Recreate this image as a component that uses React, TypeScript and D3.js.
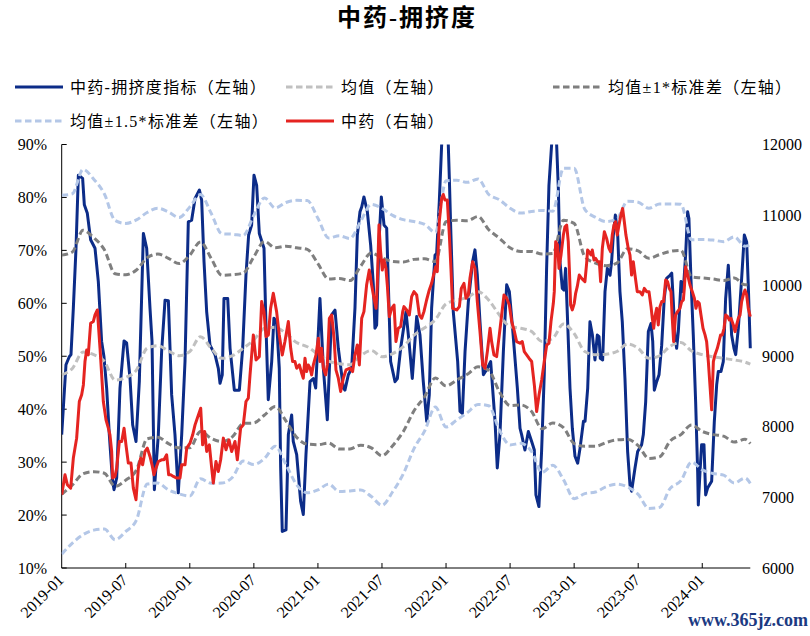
import React from 'react';
import * as d3 from 'd3';

// x positions are months counted from 2019-01
const tickLabels = ['2019-01', '2019-07', '2020-01', '2020-07', '2021-01', '2021-07', '2022-01', '2022-07', '2023-01', '2023-07', '2024-01'];
const leftTicks = [10, 20, 30, 40, 50, 60, 70, 80, 90];
const rightTicks = [6000, 7000, 8000, 9000, 10000, 11000, 12000];

// 中药-拥挤度指标 (%), [month, value]
const crowding: [number, number][] = [
  [0, 35.2], [0.4, 48.4], [0.71, 49.9], [0.87, 50.3], [1.09, 59.1], [1.34, 70.4], [1.56, 84.2], [1.78, 83.9], [1.96, 83.6], [2.12, 78.6],
  [2.4, 77.0], [2.71, 72.0], [3.12, 70.4], [3.43, 64.1], [3.74, 52.8], [3.96, 49.9], [4.21, 44.0], [4.46, 35.2], [4.74, 27.0], [4.9, 24.8],
  [5.15, 27.0], [5.46, 44.0], [5.84, 52.9], [6.08, 52.5], [6.4, 45.8], [6.65, 37.0], [6.96, 33.9], [7.27, 45.2], [7.65, 73.2], [7.96, 70.4],
  [8.27, 59.1], [8.46, 52.8], [8.68, 24.8], [9.05, 35.2], [9.36, 50.9], [9.68, 60.6], [9.99, 60.5], [10.3, 42.7], [10.61, 35.2], [10.92, 24.2],
  [11.24, 35.2], [11.55, 49.0], [11.86, 75.4], [12.17, 75.7], [12.49, 79.8], [12.9, 81.4], [13.11, 79.5], [13.33, 67.9], [13.58, 58.4], [13.89, 52.1],
  [14.36, 50.3], [14.67, 47.7], [14.83, 44.9], [15.04, 46.5], [15.2, 60.9], [15.55, 60.9], [15.77, 51.5], [16.17, 43.6], [16.64, 43.6], [16.95, 51.5],
  [17.26, 65.3], [17.51, 72.9], [17.79, 74.8], [18.01, 84.2], [18.26, 82.3], [18.51, 73.2], [18.95, 70.4], [19.14, 55.3], [19.35, 41.8], [19.67, 49.0],
  [19.88, 57.2], [20.13, 56.5], [20.38, 47.7], [20.51, 28.9], [20.66, 16.9], [21.01, 17.2], [21.23, 35.2], [21.54, 38.9], [21.69, 33.9], [22.01, 31.4],
  [22.38, 22.6], [22.63, 20.1], [22.88, 31.4], [23.26, 45.2], [23.57, 45.8], [23.79, 44.0], [24.19, 60.9], [24.51, 47.7], [24.88, 38.0], [25.28, 57.8],
  [25.6, 58.7], [25.91, 51.5], [26.38, 44.0], [26.53, 43.6], [26.85, 46.5], [27.16, 47.7], [27.47, 59.1], [27.69, 72.9], [27.94, 77.3], [28.1, 78.2],
  [28.31, 80.1], [28.63, 77.3], [28.94, 71.0], [29.19, 63.5], [29.34, 55.3], [29.5, 55.9], [29.72, 71.6], [29.94, 80.1], [30.19, 74.8], [30.44, 74.2],
  [30.81, 49.0], [31.22, 45.2], [31.44, 45.8], [31.75, 51.5], [32.25, 58.4], [32.53, 52.8], [32.84, 45.8], [33.25, 57.5], [33.56, 54.0], [33.87, 45.2],
  [34.19, 37.7], [34.43, 42.7], [34.65, 59.1], [34.97, 69.1], [35.12, 69.4], [35.37, 79.2], [35.59, 90.0], [35.85, 97.0], [36.05, 96.0], [36.21, 90.0],
  [36.31, 83.6], [36.43, 74.8], [36.68, 58.4], [37.09, 49.0], [37.31, 39.6], [37.53, 39.2], [37.78, 50.9], [38.09, 60.3], [38.49, 67.9], [38.71, 70.1],
  [38.93, 65.3], [39.18, 56.5], [39.5, 46.5], [39.87, 47.7], [40.18, 49.0], [40.59, 37.7], [40.8, 28.9], [41.05, 35.2], [41.37, 50.9], [41.68, 63.5],
  [41.93, 62.2], [42.21, 55.9], [42.68, 44.0], [42.93, 36.4], [43.08, 35.2], [43.39, 32.3], [43.71, 35.8], [44.02, 33.9], [44.27, 32.3], [44.42, 23.8],
  [44.7, 21.6], [44.95, 32.0], [45.2, 46.5], [45.42, 66.6], [45.64, 82.3], [45.89, 90.0], [46.05, 96.0], [46.25, 95.0], [46.36, 90.0], [46.52, 81.7],
  [46.67, 67.9], [46.89, 62.8], [47.05, 62.5], [47.2, 66.6], [47.39, 56.5], [47.61, 44.0], [47.83, 36.4], [48.08, 31.1], [48.33, 29.8], [48.55, 32.6],
  [48.87, 37.7], [49.02, 37.7], [49.27, 44.0], [49.48, 56.5], [49.71, 54.0], [49.95, 49.3], [50.17, 54.0], [50.33, 53.7], [50.45, 49.6], [50.67, 49.3],
  [50.89, 62.2], [51.11, 66.6], [51.36, 65.3], [51.51, 67.9], [51.67, 72.9], [51.86, 76.7], [52.08, 72.9], [52.29, 62.2], [52.51, 56.5], [52.76, 45.8],
  [53.01, 32.0], [53.23, 25.7], [53.38, 24.5], [53.7, 28.9], [53.95, 32.0], [54.32, 33.3], [54.48, 35.2], [54.7, 41.4], [54.95, 54.7], [55.2, 56.2],
  [55.36, 52.8], [55.51, 43.6], [55.73, 45.2], [55.95, 46.5], [56.2, 52.1], [56.44, 60.9], [56.66, 64.7], [56.98, 65.3], [57.14, 65.7], [57.29, 60.3],
  [57.44, 54.0], [57.6, 51.5], [57.76, 54.7], [58.01, 64.1], [58.22, 62.2], [58.44, 69.1], [58.63, 77.3], [58.75, 76.0], [58.94, 64.7], [59.16, 54.0],
  [59.38, 41.4], [59.57, 28.2], [59.63, 21.9], [59.79, 28.2], [59.94, 33.3], [60.16, 33.3], [60.32, 23.8], [60.5, 25.1], [60.88, 26.4], [61.13, 37.7],
  [61.35, 44.6], [61.5, 47.1], [61.75, 47.1], [61.97, 49.0], [62.19, 60.9], [62.44, 67.2], [62.6, 60.9], [62.75, 54.0], [62.97, 51.5], [63.13, 50.3],
  [63.38, 55.3], [63.69, 64.7], [63.94, 72.9], [64.16, 71.6], [64.31, 63.5], [64.5, 51.5],
];

// 中药 index (right axis), [month, value]
const herbIndex: [number, number][] = [
  [0, 7038], [0.31, 7321], [0.53, 7179], [0.84, 7132], [1.09, 7557], [1.4, 7840], [1.65, 8359], [1.87, 8453], [2.03, 8594], [2.18, 8925],
  [2.34, 9090], [2.49, 9019], [2.71, 9467], [2.96, 9491], [3.12, 9585], [3.34, 9656], [3.59, 9113], [3.9, 8359], [4.15, 8099], [4.37, 7981],
  [4.52, 7887], [4.68, 7651], [4.77, 7274], [4.99, 7297], [5.15, 7415], [5.4, 7792], [5.62, 7792], [5.84, 7981], [6.02, 7745], [6.24, 7486],
  [6.49, 7486], [6.71, 7132], [6.96, 6967], [7.18, 7415], [7.4, 7557], [7.58, 7462], [7.8, 7651], [8.02, 7698], [8.27, 7580], [8.46, 7462],
  [8.64, 7321], [8.83, 7415], [9.05, 7509], [9.36, 7533], [9.58, 7533], [9.83, 7604], [10.02, 7321], [10.21, 7321], [10.46, 7297], [10.77, 7274],
  [11.08, 7274], [11.24, 7462], [11.55, 7462], [11.71, 7698], [12.02, 7769], [12.27, 7887], [12.49, 8028], [12.7, 8123], [13.02, 8264], [13.2, 7745],
  [13.39, 7934], [13.58, 7651], [13.83, 7745], [14.05, 7415], [14.2, 7203], [14.45, 7509], [14.67, 7368], [14.89, 7533], [15.14, 7840], [15.39, 7675],
  [15.67, 7816], [15.92, 7651], [16.23, 7792], [16.45, 7533], [16.76, 7981], [17.01, 8028], [17.26, 8359], [17.48, 8406], [17.64, 8736], [17.95, 9302],
  [18.2, 8948], [18.51, 8995], [18.73, 9774], [18.95, 9632], [19.14, 9278], [19.36, 9302], [19.57, 9679], [19.82, 9892], [20.13, 9632], [20.38, 9302],
  [20.66, 9019], [20.91, 9208], [21.23, 9491], [21.45, 9113], [21.63, 8925], [21.85, 8925], [22.01, 8830], [22.26, 8877], [22.48, 8759], [22.63, 8689],
  [22.79, 8972], [22.94, 8783], [23.1, 8877], [23.26, 8830], [23.41, 8736], [23.57, 8877], [23.82, 9019], [24.04, 9255], [24.19, 8925], [24.35, 9113],
  [24.51, 8830], [24.72, 8736], [24.88, 8877], [25.07, 9538], [25.29, 9585], [25.51, 9255], [25.69, 8807], [25.91, 8689], [26.13, 8500], [26.38, 8689],
  [26.63, 8807], [27.0, 8830], [27.25, 8783], [27.47, 9019], [27.69, 9160], [27.88, 8877], [28.1, 9538], [28.31, 9632], [28.56, 10009], [28.81, 10222],
  [29.03, 10009], [29.25, 9821], [29.44, 9679], [29.56, 10009], [29.72, 10858], [29.87, 10481], [30.03, 10222], [30.19, 10363], [30.37, 10245], [30.5, 10009],
  [30.69, 9561], [30.91, 9679], [31.13, 9726], [31.31, 9208], [31.53, 9396], [31.75, 9420], [31.94, 9632], [32.06, 9703], [32.31, 9656], [32.56, 9585],
  [32.78, 9844], [33.0, 9915], [33.25, 9868], [33.5, 9585], [33.72, 9538], [33.93, 9632], [34.18, 9797], [34.43, 9939], [34.65, 10033], [34.87, 10175],
  [35.03, 10269], [35.18, 10198], [35.37, 10906], [35.59, 11236], [35.74, 11292], [35.9, 11212], [36.12, 11212], [36.31, 10717], [36.46, 10245], [36.62, 9679],
  [37.0, 9656], [37.25, 9703], [37.43, 9962], [37.68, 10033], [37.87, 9821], [38.09, 9868], [38.24, 10104], [38.49, 10340], [38.71, 10245], [38.93, 9774],
  [39.18, 9349], [39.43, 8877], [39.65, 8830], [39.87, 9066], [40.12, 9396], [40.27, 9208], [40.49, 9019], [40.74, 8995], [40.99, 9302], [41.21, 9585],
  [41.43, 9868], [41.68, 9821], [41.93, 9726], [42.15, 9491], [42.37, 9373], [42.61, 9208], [42.93, 9184], [43.14, 9208], [43.33, 9066], [43.55, 9019],
  [43.77, 8972], [44.02, 8925], [44.27, 8594], [44.49, 8217], [44.71, 8453], [44.96, 8665], [45.2, 8925], [45.43, 9160], [45.64, 9184], [45.83, 9491],
  [46.05, 9750], [46.14, 9915], [46.27, 10623], [46.45, 10575], [46.58, 10245], [46.77, 10434], [46.99, 10717], [47.14, 10835], [47.3, 10858], [47.45, 10623],
  [47.55, 10245], [47.67, 9726], [47.83, 9656], [48.01, 9750], [48.14, 9892], [48.29, 9986], [48.48, 10151], [48.7, 10104], [49.01, 10057], [49.17, 10316],
  [49.26, 10505], [49.39, 10481], [49.58, 10434], [49.7, 10505], [49.86, 10363], [50.01, 10387], [50.2, 10340], [50.36, 10340], [50.48, 10057], [50.64, 10528],
  [50.83, 10764], [51.04, 10670], [51.26, 10528], [51.42, 10481], [51.57, 10717], [51.73, 10858], [51.88, 10906], [52.04, 10717], [52.2, 10858], [52.38, 11000],
  [52.54, 11094], [52.7, 10906], [52.85, 10717], [53.07, 10528], [53.23, 10434], [53.38, 10151], [53.54, 10340], [53.7, 10151], [53.91, 9915], [54.16, 9915],
  [54.38, 9868], [54.57, 9962], [54.79, 9915], [55.01, 9915], [55.2, 9703], [55.32, 9538], [55.45, 9396], [55.57, 9561], [55.73, 9679], [55.88, 9444],
  [56.04, 9703], [56.2, 9774], [56.38, 9774], [56.57, 10080], [56.75, 10057], [56.91, 9962], [57.07, 9915], [57.19, 9538], [57.32, 9208], [57.5, 9585],
  [57.69, 9632], [57.91, 9679], [58.07, 9774], [58.23, 9797], [58.32, 9962], [58.44, 10269], [58.63, 10151], [58.85, 10009], [59.07, 9915], [59.26, 9821],
  [59.41, 9679], [59.57, 9774], [59.72, 9750], [59.88, 9585], [60.07, 9396], [60.26, 9302], [60.41, 9208], [60.57, 8925], [60.72, 8594], [60.88, 8241],
  [61.04, 8925], [61.19, 9019], [61.41, 9113], [61.57, 9208], [61.72, 9302], [61.88, 9302], [62.04, 9396], [62.19, 9585], [62.38, 9561], [62.54, 9514],
  [62.69, 9538], [62.91, 9444], [63.07, 9349], [63.22, 9444], [63.38, 9538], [63.54, 9585], [63.69, 9774], [63.88, 9892], [64.0, 9939], [64.16, 9868],
  [64.31, 9679], [64.5, 9561],
];

// rolling mean and standard deviation of the crowding index (%), one per month
const bandMonths = [
  0, 1, 2, 3, 4, 5, 6, 7, 8, 9, 10, 11, 12, 13, 14, 15, 16, 17, 18, 19, 20, 21,
  22, 23, 24, 25, 26, 27, 28, 29, 30, 31, 32, 33, 34, 35, 36, 37, 38, 39, 40, 41, 42, 43,
  44, 45, 46, 47, 48, 49, 50, 51, 52, 53, 54, 55, 56, 57, 58, 59, 60, 61, 62, 63, 64, 64.5,
];
const meanValues = [
  46.5, 47.7, 50.8, 50.3, 49.0, 45.5, 46.0, 47.4, 51.5, 52.0, 51.0, 50.1, 50.9, 53.7, 51.5, 49.6, 50.1, 51.5, 53.1, 55.3, 55.5, 54.3,
  52.6, 51.8, 50.4, 49.1, 48.6, 48.4, 50.1, 51.1, 49.9, 50.5, 51.8, 54.0, 55.4, 56.9, 59.9, 60.6, 61.1, 62.2, 60.6, 57.8, 55.6, 55.3,
  54.7, 52.8, 53.4, 56.1, 54.3, 50.9, 50.3, 50.4, 50.9, 52.3, 51.5, 49.6, 50.1, 51.9, 52.6, 51.0, 50.3, 49.9, 49.6, 49.3, 48.9, 48.5,
];
const stdValues = [
  22.6, 22.0, 23.0, 22.1, 21.1, 20.1, 19.4, 18.9, 17.1, 17.3, 17.5, 17.4, 18.2, 17.9, 17.0, 15.7, 15.3, 14.2, 15.7, 16.4, 15.0, 16.5,
  17.9, 18.4, 17.1, 15.5, 16.1, 15.9, 16.9, 18.4, 18.7, 17.4, 16.0, 14.3, 13.0, 11.0, 15.5, 15.1, 14.5, 14.2, 13.3, 14.5, 14.9, 14.5,
  15.1, 16.5, 16.0, 19.6, 20.8, 17.9, 17.3, 16.7, 16.7, 18.0, 18.4, 18.9, 19.1, 17.9, 17.4, 14.0, 14.5, 14.7, 14.7, 15.5, 14.6, 15.0,
];

const FONT = "'Liberation Serif', 'Noto Sans CJK SC', serif";
const NAVY = '#0c2c88';
const RED = '#e52421';
const LIGHT_GREY = '#c0c0c0';
const DARK_GREY = '#7f7f7f';
const LIGHT_BLUE = '#b4c7e7';
const DASH = '6.5,3.5';

const legendItems = [
  { label: '中药-拥挤度指标（左轴）', color: NAVY, dash: null, x: 15, y: 87 },
  { label: '均值（左轴）', color: LIGHT_GREY, dash: DASH, x: 286, y: 87 },
  { label: '均值±1*标准差（左轴）', color: DARK_GREY, dash: DASH, x: 553, y: 87 },
  { label: '均值±1.5*标准差（左轴）', color: LIGHT_BLUE, dash: DASH, x: 15, y: 121 },
  { label: '中药（右轴）', color: RED, dash: null, x: 286, y: 121 },
];

export default function App() {
  const width = 810;
  const height = 636;
  const left = 61.7;
  const right = 750.3;
  const top = 144.5;
  const bottom = 568;

  const x = d3.scaleLinear().domain([0, 64.5]).range([left, right]);
  const yL = d3.scaleLinear().domain([10, 90]).range([bottom, top]);
  const yR = d3.scaleLinear().domain([6000, 12000]).range([bottom, top]);

  const pctLine = d3.line<[number, number]>().x(d => x(d[0])).y(d => yL(d[1]));
  const idxLine = d3.line<[number, number]>().x(d => x(d[0])).y(d => yR(d[1]));
  const bandLine = d3.line<[number, number]>().x(d => x(d[0])).y(d => yL(d[1])).curve(d3.curveMonotoneX);

  const band = (k: number) => bandMonths.map((m, i) => [m, meanValues[i] + k * stdValues[i]] as [number, number]);

  const bands = [
    { k: 0, color: LIGHT_GREY },
    { k: 1, color: DARK_GREY },
    { k: -1, color: DARK_GREY },
    { k: 1.5, color: LIGHT_BLUE },
    { k: -1.5, color: LIGHT_BLUE },
  ];

  return (
    <svg width={width} height={height} style={{ position: 'absolute', left: 0, top: 0, background: '#fff' }} fontFamily={FONT}>
      <defs>
        <clipPath id="plot-clip">
          <rect x={left} y={top} width={right - left + 2} height={bottom - top} />
        </clipPath>
      </defs>

      <text x={407} y={26} textAnchor="middle" fontSize={24} fontWeight="bold" letterSpacing={2} fill="#000">中药-拥挤度</text>

      {legendItems.map(item => (
        <g key={item.label}>
          <line x1={item.x} x2={item.x + 48} y1={item.y} y2={item.y} stroke={item.color} strokeWidth={3}
            strokeDasharray={item.dash || undefined} />
          <text x={item.x + 55} y={item.y + 5.5} fontSize={16} letterSpacing={1.3} fill="#000">{item.label}</text>
        </g>
      ))}

      {/* axes */}
      <line x1={left} x2={left} y1={top} y2={bottom} stroke="#000" strokeWidth={1} />
      <line x1={left} x2={right} y1={bottom} y2={bottom} stroke="#000" strokeWidth={1} />
      {leftTicks.map(t => (
        <g key={'l' + t}>
          <line x1={left} x2={left + 5} y1={yL(t)} y2={yL(t)} stroke="#000" />
          <text x={47} y={yL(t) + 5.5} textAnchor="end" fontSize={16}>{t}%</text>
        </g>
      ))}
      {rightTicks.map(t => (
        <text key={'r' + t} x={762} y={yR(t) + 5.5} fontSize={16}>{t}</text>
      ))}
      {tickLabels.map((label, i) => {
        const px = x(i * 6);
        return (
          <g key={label}>
            {i > 0 && <line x1={px} x2={px} y1={bottom} y2={bottom - 5} stroke="#000" />}
            <text transform={`translate(${px + 3},${bottom + 13}) rotate(-45)`} textAnchor="end" fontSize={16}>{label}</text>
          </g>
        );
      })}

      <g clipPath="url(#plot-clip)" fill="none" strokeLinejoin="round">
        <path d={pctLine(crowding) || ''} stroke={NAVY} strokeWidth={3} />
        {bands.map(b => (
          <path key={b.k} d={bandLine(band(b.k)) || ''} stroke={b.color} strokeWidth={3} strokeDasharray={DASH} />
        ))}
        <path d={idxLine(herbIndex) || ''} stroke={RED} strokeWidth={3} />
      </g>

      <text x={808} y={626} textAnchor="end" fontSize={18} fontWeight="bold" fill="#1b3a82">www.365jz.com</text>
    </svg>
  );
}
